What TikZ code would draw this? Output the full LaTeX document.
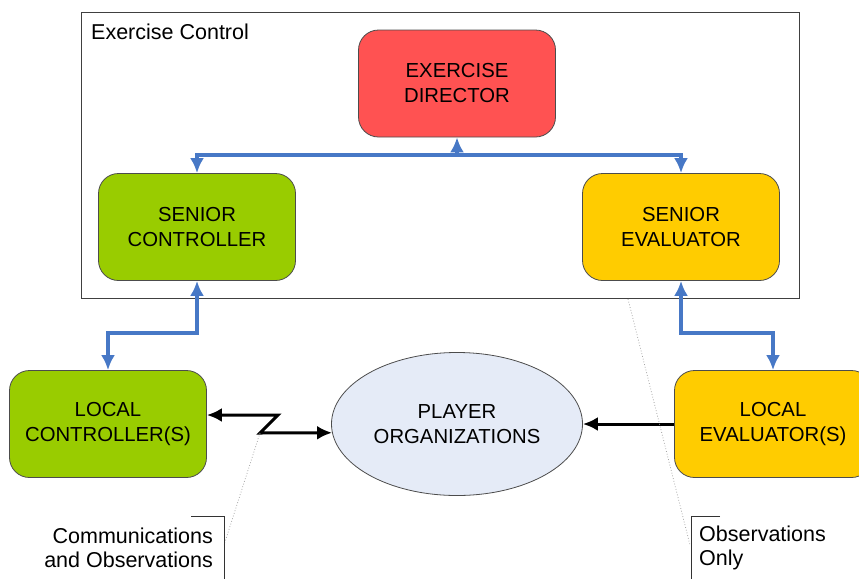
\documentclass[tikz,border=0pt]{standalone}
\usepackage{fontspec}
\setmainfont{Liberation Sans}
\usetikzlibrary{shapes.geometric, arrows.meta}
\definecolor{dirred}{RGB}{255,82,82}
\definecolor{ctrlgreen}{RGB}{153,204,0}
\definecolor{evalyellow}{RGB}{255,204,0}
\definecolor{playerblue}{RGB}{229,235,247}
\definecolor{linkblue}{RGB}{71,120,198}
\tikzset{
  block/.style={
    rectangle,
    rounded corners=20pt,
    draw=black!70,
    line width=0.8pt,
    minimum width=197pt,
    minimum height=107pt,
    inner sep=0pt,
    font=\fontsize{20.3}{25}\selectfont
  },
  note/.style={
    font=\fontsize{21.5}{23.5}\selectfont,
    inner sep=0pt
  },
  tip/.tip={Latex[length=15pt,width=14pt]}
}
\tikzstyle{link} = [tip-tip, draw=linkblue, line width=3.6pt]
\tikzstyle{arrow} = [-tip, line width=3pt]
\tikzstyle{pointer} = [gray!70, dotted, line width=0.8pt]

\begin{document}
\begin{tikzpicture}[x=1pt, y=-1pt]
    \useasboundingbox (0,0) rectangle (859,579);
    \draw[black!75, line width=1pt] (81,12) rectangle (799,298);
    \node[note, anchor=north west] (title) at (91,24) {Exercise Control};
    \node[block, fill=dirred, align=center] (ed) at (457,83.5) {EXERCISE\\DIRECTOR};
    \node[block, fill=ctrlgreen, align=center] (sc) at (197,227) {SENIOR\\CONTROLLER};
    \node[block, fill=evalyellow, align=center] (se) at (681,227) {SENIOR\\EVALUATOR};
    \node[block, fill=ctrlgreen, align=center] (lc) at (108,424) {LOCAL\\CONTROLLER(S)};
    \node[block, fill=evalyellow, align=center] (le) at (773,424) {LOCAL\\EVALUATOR(S)};
    \node[ellipse, draw=black!70, line width=0.8pt, fill=playerblue, minimum width=251pt, minimum height=143pt, inner sep=0pt, align=center, font=\fontsize{20.3}{25}\selectfont] (po) at (457,424) {PLAYER\\ORGANIZATIONS};
    \coordinate (bus) at (457,155);
    \coordinate (zz1) at (278,415);
    \coordinate (zz2) at (260,433);
    \draw[link] (sc.north) |- (bus) -| (se.north);
    \draw[link, tip-] (ed.south) -- (bus);
    \draw[link] (sc.south) -- ++(0,52) -| (lc.north);
    \draw[link] (se.south) -- ++(0,52) -| (le.north);
    \draw[arrow] (le.west) -- (po.east);
    \draw[arrow, tip-tip] ([yshift=9pt]lc.east) -- (zz1) -- (zz2) -- (po.184);
    % callouts
    \coordinate (c1) at (224,545);
    \coordinate (c2) at (628,299);
    \coordinate (c3) at (690,545);
    \draw[pointer] (zz2) -- (c1);
    \draw[pointer] (c2) -- (c3);
    \draw[black!80, line width=0.9pt] (191,516) -- (224,516) -- (224,579);
    \draw[black!80, line width=0.9pt] (720,516) -- (691,516) -- (691,579);
    \node[note, align=right, anchor=east] (comm) at (213,548) {Communications\\and Observations};
    \node[note, align=left, anchor=west] (obs) at (699,548) {Observations\\Only};
\end{tikzpicture}
\end{document}
